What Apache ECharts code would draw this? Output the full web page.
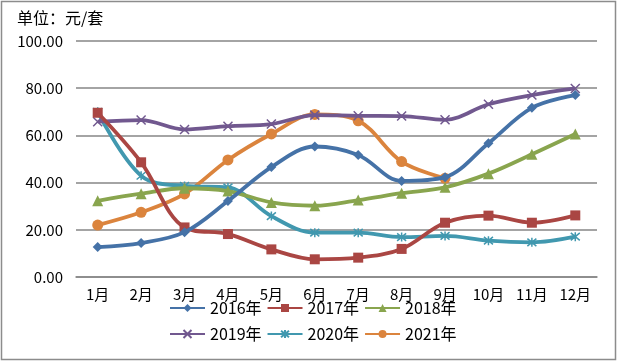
<!DOCTYPE html>
<html><head><meta charset="utf-8">
<script src="https://cdn.jsdelivr.net/npm/echarts@6/dist/echarts.min.js"></script>
<style>html,body{margin:0;padding:0;background:#fff}#c{width:618px;height:362px}</style>
</head><body><div id="c"></div>
<script>
const months = ['1月','2月','3月','4月','5月','6月','7月','8月','9月','10月','11月','12月'];
const seriesNames = ['2016年','2017年','2018年','2019年','2020年','2021年'];
const s2016 = [12.7,14.4,19.0,32.2,46.6,55.3,51.7,40.7,42.3,56.7,71.7,77.1];
const s2017 = [69.6,48.6,21.0,18.2,11.7,7.5,8.2,11.9,23.0,26.0,23.0,26.1];
const s2018 = [32.3,35.3,37.6,36.4,31.6,30.2,32.6,35.5,38.0,43.8,52.0,60.6];
const s2019 = [65.8,66.5,62.5,63.9,64.8,68.6,68.3,68.2,66.6,73.2,77.1,79.9];
const s2020 = [70.0,42.9,38.6,38.0,25.8,18.8,18.8,16.9,17.4,15.4,14.7,17.1];
const s2021 = [22.0,27.4,35.2,49.6,60.6,68.9,66.2,48.9,41.8];
const yTicks = [0,20,40,60,80,100];

const colors = ['#4572A7','#AA4643','#89A54E','#71588F','#4198AF','#DB843D'];
const font = '"Noto Sans CJK SC", sans-serif';
const X = 'path://M0,0L10,10M10,0L0,10';
const AST = 'path://M0,0L10,10M10,0L0,10M5,-1L5,11';
const symbols = ['diamond','rect','triangle',X,AST,'circle'];
const sizes = [10,10,11,9,9,11];
const datas = [s2016,s2017,s2018,s2019,s2020,s2021];

const chart = echarts.init(document.getElementById('c'));
const series = datas.map((d,i)=>({
  name: seriesNames[i], type:'line', data:d, smooth:0.35,
  symbol: symbols[i], symbolSize: sizes[i], showSymbol:true,
  lineStyle:{width:3.8,color:colors[i]},
  itemStyle:(i===3||i===4)?{color:'rgba(0,0,0,0)',borderColor:colors[i],borderWidth:1.5}:{color:colors[i]},
  emphasis:{disabled:true}, z: 10-i
}));
const legendBase = {
  left:169, padding:0, itemWidth:35, itemHeight:10, itemGap:5,
  textStyle:{fontFamily:font,fontSize:16,color:'#000',width:52,overflow:'none'}
};
chart.setOption({
  animation:false,
  color: colors,
  title:{text:'单位：元/套',left:17,top:10,padding:0,textStyle:{fontFamily:font,fontSize:16,fontWeight:'normal',color:'#000'}},
  graphic:[{type:'rect',shape:{x:1.5,y:1.5,width:614,height:358},style:{fill:'none',stroke:'#8c8c8c',lineWidth:1.5},silent:true}],
  grid:{left:76,right:21,top:41,bottom:85},
  legend:[
    Object.assign({},legendBase,{top:300,data:seriesNames.slice(0,3)}),
    Object.assign({},legendBase,{top:326,data:seriesNames.slice(3,6)})
  ],
  xAxis:{type:'category',data:months,boundaryGap:true,
    axisLine:{lineStyle:{color:'#868686',width:1.5}},axisTick:{show:false},
    axisLabel:{fontFamily:font,fontSize:15,color:'#000',margin:10}},
  yAxis:{type:'value',min:yTicks[0],max:yTicks[yTicks.length-1],interval:20,
    axisLine:{show:false},axisTick:{show:false},
    splitLine:{lineStyle:{color:'#868686',width:1.5}},
    axisLabel:{fontFamily:font,fontSize:15,color:'#000',margin:13,formatter:v=>v.toFixed(2)}},
  series: series
});
</script></body></html>
